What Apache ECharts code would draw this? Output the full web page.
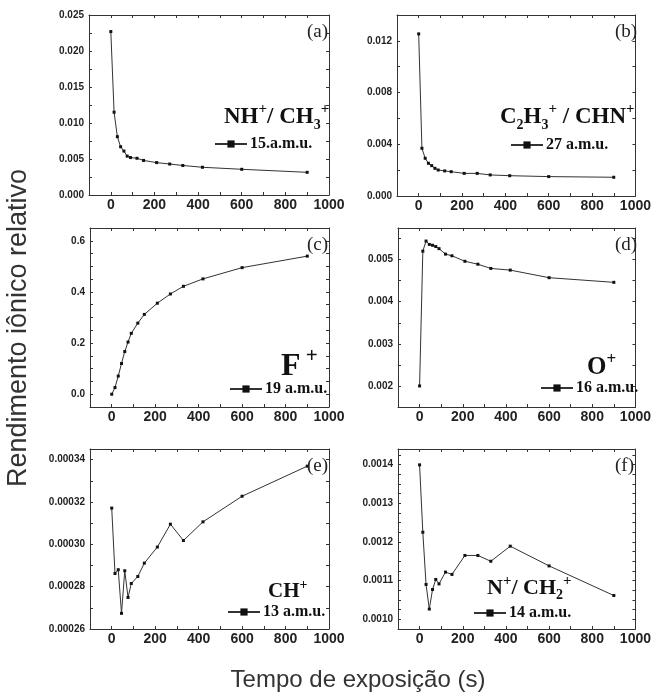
<!DOCTYPE html>
<html>
<head>
<meta charset="utf-8">
<script src="https://cdn.jsdelivr.net/npm/echarts@6/dist/echarts.min.js"></script>
<style>
  html, body { margin: 0; padding: 0; background: #fff; }
  #main { width: 654px; height: 692px; }
</style>
</head>
<body>
<div id="main"></div>
<script>
// tempos de exposição (s), iguais para todos os painéis
var times = [0, 15, 30, 45, 60, 75, 90, 120, 150, 210, 270, 330, 420, 600, 900];
var xTicks = [0, 200, 400, 600, 800, 1000];

// rendimentos relativos
var amu15 = [0.0227, 0.0115, 0.0081, 0.0067, 0.0061, 0.0054, 0.0052, 0.0051, 0.0048, 0.0045, 0.0043, 0.0041, 0.00385, 0.00357, 0.00315];
var amu27 = [0.01254, 0.00369, 0.00292, 0.00253, 0.00235, 0.00214, 0.00201, 0.00194, 0.00188, 0.00175, 0.00175, 0.00163, 0.00157, 0.0015, 0.00145];
var amu19 = [0.0, 0.026, 0.071, 0.12, 0.167, 0.204, 0.238, 0.278, 0.312, 0.356, 0.392, 0.422, 0.451, 0.495, 0.54];
var amu16 = [0.0020, 0.0052, 0.00544, 0.00536, 0.00534, 0.00531, 0.00526, 0.00513, 0.00509, 0.00496, 0.00489, 0.00479, 0.00475, 0.00457, 0.00446];
var amu13 = [0.0003171, 0.0002862, 0.000288, 0.0002674, 0.0002875, 0.0002749, 0.0002815, 0.0002848, 0.0002911, 0.0002987, 0.0003095, 0.0003018, 0.0003106, 0.0003227, 0.0003369];
var amu14 = [0.001399, 0.001225, 0.00109, 0.0010265, 0.001077, 0.001103, 0.0010915, 0.001122, 0.001116, 0.001165, 0.001165, 0.00115, 0.001189, 0.001138, 0.0010615];

// rótulos dos eixos y
var yTicksA = [0, 0.005, 0.010, 0.015, 0.020, 0.025];
var yTicksB = [0, 0.004, 0.008, 0.012];
var yTicksC = [0, 0.2, 0.4, 0.6];
var yTicksD = [0.002, 0.003, 0.004, 0.005];
var yTicksE = [0.00026, 0.00028, 0.00030, 0.00032, 0.00034];
var yTicksF = [0.0010, 0.0011, 0.0012, 0.0013, 0.0014];

var panels = [
    { name: '15.a.m.u.', data: amu15, letter: '(a)', grid: [89, 15, 240, 180], y: [0, 0.025, 0.0025], ticks: yTicksA, dec: 3,
      ion: '{b|NH}{p|+}{b|/ CH}{s|3}{p|+}', ionPos: [219, 97], ionSize: 23, legPos: [214, 136] },
    { name: '27 a.m.u.', data: amu27, letter: '(b)', grid: [397, 15, 240, 181], y: [0, 0.014, 0.002], ticks: yTicksB, dec: 3,
      ion: '{b|C}{s|2}{b|H}{s|3}{p|+}{b| / CHN}{p|+}', ionPos: [495, 97], ionSize: 23, legPos: [510, 137] },
    { name: '19 a.m.u.', data: amu19, letter: '(c)', grid: [90, 228, 239, 179], y: [-0.05, 0.65, 0.05], ticks: yTicksC, dec: 1,
      ion: '{b|F}{p| +}', ionPos: [276, 341], ionSize: 32, legPos: [229, 381] },
    { name: '16 a.m.u.', data: amu16, letter: '(d)', grid: [398, 228, 239, 179], y: [0.0015, 0.00575, 0.0005], ticks: yTicksD, dec: 3,
      ion: '{b|O}{p|+}', ionPos: [582, 346], ionSize: 25, legPos: [540, 380] },
    { name: '13 a.m.u.', data: amu13, letter: '(e)', grid: [90, 449, 239, 180], y: [0.00026, 0.000345, 0.00001], ticks: yTicksE, dec: 5,
      ion: '{b|CH}{p|+}', ionPos: [263, 573], ionSize: 21, legPos: [227, 604] },
    { name: '14 a.m.u.', data: amu14, letter: '(f)', grid: [398, 449, 239, 180], y: [0.000975, 0.00144, 0.000025], ticks: yTicksF, dec: 4,
      ion: '{b|N}{p|+}{b|/ CH}{s|2}{p|+}', ionPos: [482, 569], ionSize: 22, legPos: [473, 605] }
];

var axisColor = '#333';
var grids = [], xAxes = [], yAxes = [], series = [], titles = [], legends = [];

panels.forEach(function (p, i) {
    grids.push({ left: p.grid[0], top: p.grid[1], width: p.grid[2], height: p.grid[3] });

    // eixo inferior + espelho superior
    xAxes.push({
        type: 'value', gridIndex: i, min: -100, max: 1000, interval: 100,
        axisLine: { onZero: false, lineStyle: { color: axisColor, width: 1 } },
        axisTick: { inside: true, length: 3, lineStyle: { color: axisColor } },
        splitLine: { show: false },
        axisLabel: {
            margin: 3, color: '#222', fontFamily: 'Liberation Sans', fontWeight: 'bold', fontSize: 14,
            formatter: function (v) { return xTicks.indexOf(v) >= 0 ? String(v) : ''; }
        }
    });
    xAxes.push({
        type: 'value', gridIndex: i, position: 'top', min: -100, max: 1000, interval: 100,
        axisLine: { onZero: false, lineStyle: { color: axisColor, width: 1 } },
        axisTick: { inside: true, length: 3, lineStyle: { color: axisColor } },
        splitLine: { show: false }, axisLabel: { show: false }
    });

    var ticks = p.ticks, dec = p.dec;
    yAxes.push({
        type: 'value', gridIndex: i, min: p.y[0], max: p.y[1], interval: p.y[2],
        axisLine: { show: true, onZero: false, lineStyle: { color: axisColor, width: 1 } },
        axisTick: { show: true, inside: true, length: 3, lineStyle: { color: axisColor } },
        splitLine: { show: false },
        axisLabel: {
            margin: 5, color: '#222', fontFamily: 'Liberation Sans', fontWeight: 'bold', fontSize: 10,
            formatter: function (v) {
                for (var k = 0; k < ticks.length; k++) {
                    if (Math.abs(v - ticks[k]) < 1e-9) return v.toFixed(dec);
                }
                return '';
            }
        }
    });
    yAxes.push({
        type: 'value', gridIndex: i, position: 'right', min: p.y[0], max: p.y[1], interval: p.y[2],
        axisLine: { show: true, onZero: false, lineStyle: { color: axisColor, width: 1 } },
        axisTick: { show: true, inside: true, length: 3, lineStyle: { color: axisColor } },
        splitLine: { show: false }, axisLabel: { show: false }
    });

    series.push({
        name: p.name, type: 'line', xAxisIndex: 2 * i, yAxisIndex: 2 * i,
        data: times.map(function (t, k) { return [t, p.data[k]]; }),
        symbol: 'rect', symbolSize: 3, showSymbol: true,
        lineStyle: { color: '#333', width: 1 },
        itemStyle: { color: '#111' },
        animation: false
    });

    // letra do painel
    titles.push({
        text: p.letter, left: p.grid[0] + p.grid[2] - 27, top: p.grid[1] + 3,
        textStyle: { fontFamily: 'Liberation Serif', fontWeight: 'normal', fontSize: 19, color: '#222' }
    });
    // ião
    var sz = p.ionSize;
    titles.push({
        text: p.ion, left: p.ionPos[0], top: p.ionPos[1],
        textStyle: {
            rich: {
                b: { fontFamily: 'Liberation Serif', fontWeight: 'bold', fontSize: sz, color: '#111', lineHeight: sz * 1.3, verticalAlign: 'middle' },
                p: { fontFamily: 'Liberation Serif', fontWeight: 'bold', fontSize: Math.round(sz * 0.66), color: '#111', lineHeight: sz * 1.3, verticalAlign: 'top' },
                s: { fontFamily: 'Liberation Serif', fontWeight: 'bold', fontSize: Math.round(sz * 0.62), color: '#111', lineHeight: sz * 1.3, verticalAlign: 'bottom' }
            }
        }
    });

    legends.push({
        data: [p.name], left: p.legPos[0], top: p.legPos[1], padding: 0,
        itemWidth: 32, itemHeight: 9, selectedMode: false,
        textStyle: { fontFamily: 'Liberation Serif', fontWeight: 'bold', fontSize: 16, color: '#111', padding: [0, 0, 0, -2] }
    });
});

var chart = echarts.init(document.getElementById('main'), null, { renderer: 'canvas' });
chart.setOption({
    animation: false,
    backgroundColor: '#fff',
    title: titles,
    legend: legends,
    grid: grids,
    xAxis: xAxes,
    yAxis: yAxes,
    series: series,
    graphic: [
        {
            type: 'text', x: 19, y: 328, rotation: Math.PI / 2,
            style: { text: 'Rendimento iônico relativo', fontFamily: 'Liberation Sans', fontSize: 27, fill: '#333', textAlign: 'center', textVerticalAlign: 'middle' }
        },
        {
            type: 'text', x: 358, y: 680,
            style: { text: 'Tempo de exposição (s)', fontFamily: 'Liberation Sans', fontSize: 24, fill: '#333', textAlign: 'center', textVerticalAlign: 'middle' }
        }
    ]
});
</script>
</body>
</html>
